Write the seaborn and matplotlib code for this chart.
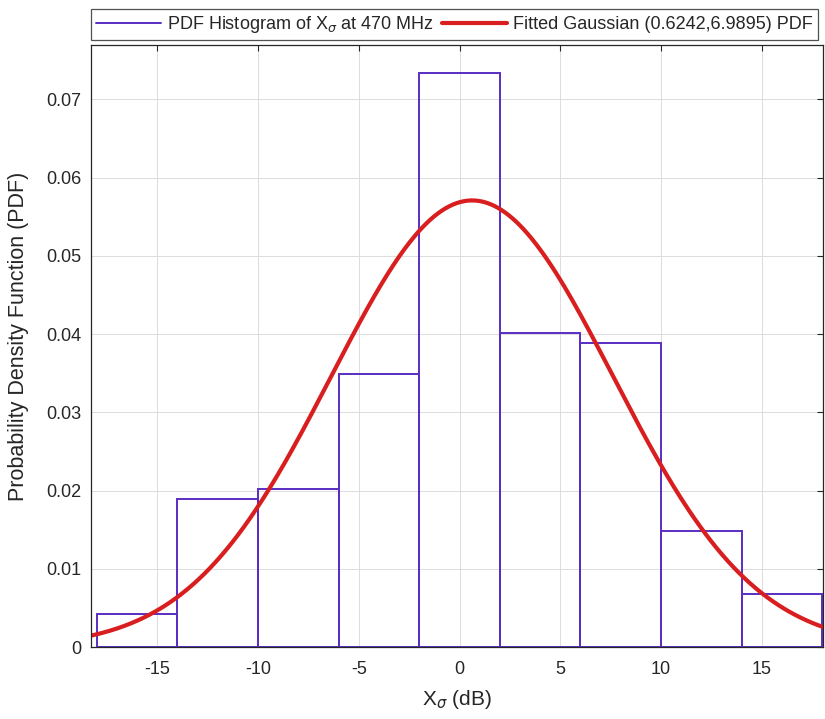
import numpy as np
import pandas as pd
import seaborn as sns
import matplotlib.pyplot as plt

# histogram bins (dB) and PDF heights
bin_edges = [-18, -14, -10, -6, -2, 2, 6, 10, 14, 18]
pdf_heights = [0.0042, 0.0189, 0.0202, 0.0349, 0.0733, 0.0401, 0.0388, 0.0148, 0.0068]

# fitted gaussian parameters (from the legend)
mu = 0.6242
sigma = 6.9895

sns.set_style('white')
plt.rcParams['font.family'] = ['Liberation Sans', 'DejaVu Sans']
plt.rcParams['mathtext.fontset'] = 'dejavusans'
plt.rcParams['axes.unicode_minus'] = False

centers = [(a + b) / 2 for a, b in zip(bin_edges[:-1], bin_edges[1:])]
hist_df = pd.DataFrame({'x': centers, 'pdf': pdf_heights})

xs = np.linspace(-18.5, 18.5, 400)
fit_df = pd.DataFrame({'x': xs,
                       'pdf': np.exp(-(xs - mu) ** 2 / (2 * sigma ** 2)) / (sigma * np.sqrt(2 * np.pi))})

purple = '#5a2ec2'
red = '#d81e1e'
dark = '#262626'

fig = plt.figure(figsize=(8.25, 7.19), dpi=100)
ax = fig.add_axes([0.110, 0.100, 0.888, 0.837])

sns.histplot(data=hist_df, x='x', weights='pdf', bins=bin_edges, stat='count',
             fill=False, element='bars', color=purple, linewidth=1.4, ax=ax)
sns.lineplot(data=fit_df, x='x', y='pdf', color=red, linewidth=3, ax=ax)

ax.set_xlim(-18.3, 18.05)
ax.set_ylim(0, 0.0769)
ax.set_xticks([-15, -10, -5, 0, 5, 10, 15])
ax.set_yticks([0, 0.01, 0.02, 0.03, 0.04, 0.05, 0.06, 0.07])
ax.set_yticklabels(['0', '0.01', '0.02', '0.03', '0.04', '0.05', '0.06', '0.07'])
ax.tick_params(direction='in', length=4, width=0.8, labelsize=13, colors=dark,
               top=True, right=True)
ax.tick_params(axis='x', pad=10)
ax.tick_params(axis='y', pad=7)
ax.grid(True, color='#dcdcdc', linewidth=0.7)
ax.set_axisbelow(True)
for s in ax.spines.values():
    s.set_color(dark)
    s.set_linewidth(0.9)

ax.set_xlabel(r'X$_\sigma$ (dB)', fontsize=15, color=dark, labelpad=7)
ax.set_ylabel('Probability Density Function (PDF)', fontsize=15.5, color=dark)
ax.yaxis.set_label_coords(-0.084, 0.517)

h1 = plt.Line2D([], [], color=purple, linewidth=1.4)
h2 = plt.Line2D([], [], color=red, linewidth=3)
leg = ax.legend([h1, h2], [r'PDF Histogram of X$_\sigma$ at 470 MHz', 'Fitted Gaussian (0.6242,6.9895) PDF'],
                loc='lower left', bbox_to_anchor=(0, 1.008), ncol=2,
                fontsize=13, frameon=True, fancybox=False, handlelength=3.6,
                handletextpad=0.3, columnspacing=0.5, borderaxespad=0, borderpad=0.3)
leg.get_frame().set_edgecolor(dark)
leg.get_frame().set_linewidth(0.9)

fig.savefig('out.png', dpi=100)
